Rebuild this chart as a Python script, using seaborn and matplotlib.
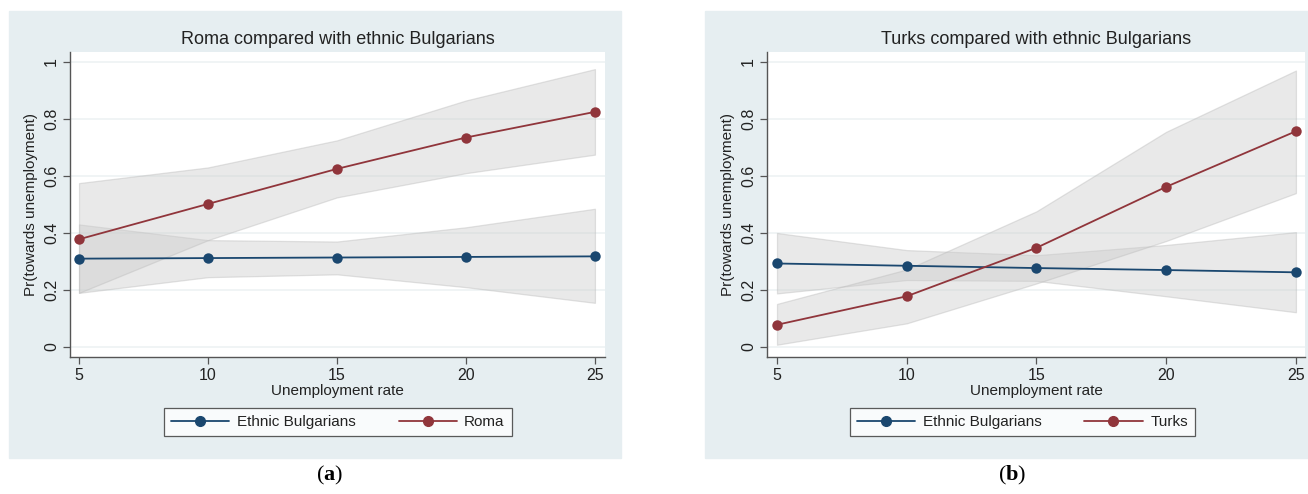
import pandas as pd
import seaborn as sns
import matplotlib.pyplot as plt
from matplotlib.patches import Rectangle
from matplotlib.lines import Line2D

# Data
rate = [5, 10, 15, 20, 25]

# (a) Roma vs ethnic Bulgarians
bg_a = [0.310, 0.312, 0.314, 0.316, 0.318]
bg_a_lo = [0.19, 0.245, 0.255, 0.21, 0.155]
bg_a_hi = [0.43, 0.375, 0.37, 0.42, 0.485]
roma = [0.378, 0.502, 0.625, 0.735, 0.825]
roma_lo = [0.19, 0.375, 0.525, 0.61, 0.675]
roma_hi = [0.575, 0.63, 0.725, 0.865, 0.975]

# (b) Turks vs ethnic Bulgarians
bg_b = [0.293, 0.285, 0.277, 0.270, 0.262]
bg_b_lo = [0.188, 0.235, 0.232, 0.178, 0.122]
bg_b_hi = [0.40, 0.34, 0.322, 0.358, 0.403]
turks = [0.078, 0.178, 0.348, 0.562, 0.757]
turks_lo = [0.008, 0.083, 0.223, 0.372, 0.54]
turks_hi = [0.151, 0.272, 0.476, 0.755, 0.97]

yticks = [0, 0.2, 0.4, 0.6, 0.8, 1]
ytick_labels = ['0', '0.2', '0.4', '0.6', '0.8', '1']

NAVY = '#1a476f'
MAROON = '#90353b'
BG = '#e6eef1'
TXT = '#222222'

sns.set_theme(style='white')
plt.rcParams['font.family'] = ['Liberation Sans', 'DejaVu Sans']
plt.rcParams['mathtext.fontset'] = 'custom'
plt.rcParams['mathtext.rm'] = 'Liberation Serif'
plt.rcParams['mathtext.bf'] = 'Liberation Serif:bold'

fig = plt.figure(figsize=(13.08, 4.94), dpi=100)
W, H = 1308, 494

# panel backgrounds (pixel boxes)
for x0, x1 in [(9, 621), (705, 1308)]:
    fig.add_artist(Rectangle((x0 / W, 1 - 458 / H), (x1 - x0) / W, (458 - 11) / H,
                             transform=fig.transFigure, color=BG, zorder=0))

panels = [
    dict(left=70, right=605, xlim=(4.65, 25.39), title='Roma compared with ethnic Bulgarians',
         other='Roma', b=bg_a, b_lo=bg_a_lo, b_hi=bg_a_hi, o=roma, o_lo=roma_lo, o_hi=roma_hi,
         leg=(168, 508), lab='a', labx=330),
    dict(left=767, right=1305, xlim=(4.615, 25.35), title='Turks compared with ethnic Bulgarians',
         other='Turks', b=bg_b, b_lo=bg_b_lo, b_hi=bg_b_hi, o=turks, o_lo=turks_lo, o_hi=turks_hi,
         leg=(840, 1205), lab='b', labx=1012),
]

for p in panels:
    ax = fig.add_axes([p['left'] / W, 1 - 357 / H, (p['right'] - p['left']) / W, (357 - 52) / H])
    ax.set_facecolor('white')

    for yv in yticks:
        ax.axhline(yv, color='#edf2f4', lw=1.2, zorder=0)

    df = pd.DataFrame({
        'rate': rate * 2,
        'pr': p['b'] + p['o'],
        'group': ['Ethnic Bulgarians'] * 5 + [p['other']] * 5,
    })

    ax.fill_between(rate, p['b_lo'], p['b_hi'], facecolor='#cccccc', alpha=0.42,
                    edgecolor='#bbbbbb', lw=0.9, zorder=1)
    ax.fill_between(rate, p['o_lo'], p['o_hi'], facecolor='#cccccc', alpha=0.42,
                    edgecolor='#bbbbbb', lw=0.9, zorder=1)

    sns.lineplot(data=df, x='rate', y='pr', hue='group', palette=[NAVY, MAROON],
                 marker='o', markersize=7.5, markeredgewidth=0, lw=1.3, ax=ax,
                 legend=False, zorder=3)

    ax.set_xlim(*p['xlim'])
    ax.set_ylim(-0.0351, 1.0351)
    ax.set_xticks(rate)
    ax.set_yticks(yticks)
    ax.set_yticklabels(ytick_labels, rotation=90, va='center')
    ax.tick_params(axis='both', which='major', direction='out', length=5, width=0.9,
                   color='#555555', labelsize=11.5, labelcolor=TXT, pad=3)
    ax.tick_params(axis='y', left=True)
    ax.tick_params(axis='x', bottom=True)
    for s in ['top', 'right']:
        ax.spines[s].set_visible(False)
    for s in ['left', 'bottom']:
        ax.spines[s].set_color('#555555')
        ax.spines[s].set_linewidth(1.0)

    ax.set_xlabel('Unemployment rate', fontsize=11, color=TXT, labelpad=1)
    ax.set_ylabel('Pr(towards unemployment)', fontsize=11, color=TXT, labelpad=4)
    ax.set_title(p['title'], fontsize=13, color=TXT, pad=6)

    handles = [Line2D([], [], color=NAVY, marker='o', markersize=7, lw=1.3),
               Line2D([], [], color=MAROON, marker='o', markersize=7, lw=1.3)]
    lx0, lx1 = p['leg']
    leg = fig.legend(handles, ['Ethnic Bulgarians', p['other']], ncol=2,
                     loc='center', bbox_to_anchor=((lx0 + lx1) / 2 / W, 1 - 422 / H),
                     frameon=True, fancybox=False, fontsize=11, handlelength=3.8,
                     columnspacing=2.8, borderpad=0.45, handletextpad=0.5)
    leg.get_frame().set_edgecolor('#333333')
    leg.get_frame().set_linewidth(0.9)
    for t in leg.get_texts():
        t.set_color(TXT)

    fig.text(p['labx'] / W, 1 - 475 / H, r'($\mathbf{%s}$)' % p['lab'], ha='center', va='center',
             fontsize=16, family='Liberation Serif', color='black')

fig.savefig('out.png', dpi=100)
